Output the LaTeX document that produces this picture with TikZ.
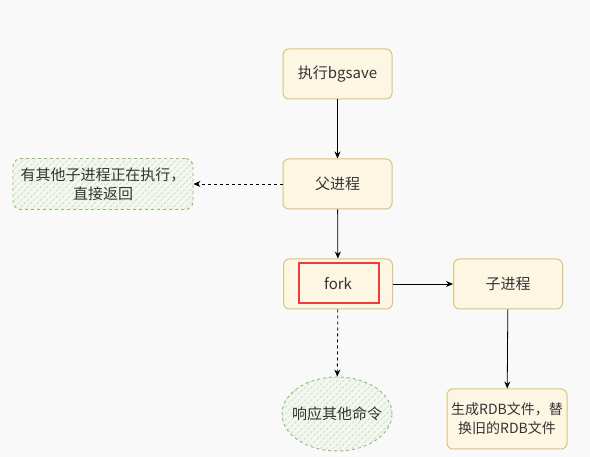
\documentclass[tikz,border=0pt]{standalone}
\usepackage{fontspec}
\setmainfont{Noto Sans CJK SC}
\usetikzlibrary{arrows.meta,patterns.meta,shapes.geometric}

\definecolor{bgcol}{HTML}{F9F9F9}
\definecolor{boxfill}{HTML}{FCF6E3}
\definecolor{boxline}{HTML}{DCC27E}
\definecolor{greenfill}{HTML}{F3F7F0}
\definecolor{greenline}{HTML}{8CBA72}
\definecolor{greenhatch}{HTML}{C6DCBC}
\definecolor{textcol}{HTML}{333333}
\definecolor{markred}{HTML}{EE3B3B}

\begin{document}
\begin{tikzpicture}[x=1pt,y=-1pt,
    proc/.style={draw=boxline, fill=boxfill, rounded corners=6pt, line width=1pt,
      minimum width=109pt, minimum height=50pt, text=textcol,
      font=\fontsize{15}{19}\selectfont, align=center},
    note/.style={draw=greenline, dashed, line width=0.9pt, fill=greenfill,
      postaction={pattern={Lines[angle=45,distance=4.5pt,line width=0.6pt]}, pattern color=greenhatch},
      text=textcol, font=\fontsize{15}{19}\selectfont, align=center},
    flow/.style={-{Stealth[length=7pt,width=6pt]}, line width=0.8pt},
    flowdash/.style={flow, dashed}]
  \fill[bgcol] (0, 0) rectangle (590, 457);
  \useasboundingbox (0, 0) rectangle (590, 457);

  % main column
  \node[proc] (bgsave) at (337.5, 74) {执行bgsave};
  \node[proc] (parent) at (337.5, 184) {父进程};
  \node[proc] (fork) at (338, 284) {fork};
  \node[draw=markred, line width=1.8pt, minimum width=80pt, minimum height=40pt] (mark) at (339, 283) {};

  % child column
  \node[proc] (child) at (508, 284) {子进程};
  \node[proc, minimum width=120pt, minimum height=60pt, font=\fontsize{14}{19}\selectfont] (rdb) at (507, 419) {生成RDB文件，替\\换旧的RDB文件};

  % side notes
  \node[note, rounded corners=8pt, minimum width=180pt, minimum height=51pt] (busy) at (103, 184) {有其他子进程正在执行，\\直接返回};
  \node[note, ellipse, inner xsep=-16pt, minimum width=110pt, minimum height=74pt] (reply) at (337, 414) {响应其他命令};

  \draw[flow] (bgsave) -- (parent);
  \draw[flowdash] (parent) -- (busy);
  \draw[flow] (parent) -- (fork);
  \draw[flow] (fork) -- (child);
  \draw[flowdash] (fork) -- (reply);
  \draw[flow] (child) -- (rdb);
\end{tikzpicture}
\end{document}
